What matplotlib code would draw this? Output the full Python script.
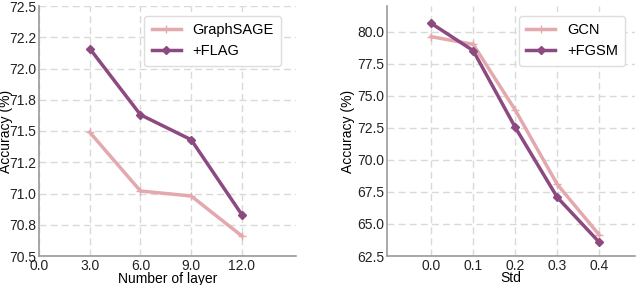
import numpy as np
import matplotlib
matplotlib.use("Agg")
import matplotlib.pyplot as plt
from matplotlib.ticker import FormatStrFormatter

# left panel: accuracy vs number of layers
layers = [3, 6, 9, 12]
graphsage = [71.49, 71.02, 70.98, 70.66]
flag = [72.16, 71.63, 71.43, 70.83]
layer_ticks = [0, 3, 6, 9, 12]

# right panel: accuracy vs std
stds = [0.0, 0.1, 0.2, 0.3, 0.4]
gcn = [79.61, 79.01, 73.89, 68.09, 64.14]
fgsm = [80.65, 78.52, 72.54, 67.08, 63.57]

PINK = "#e3a9ae"
PURPLE = "#8c4a80"

plt.rcParams["font.family"] = ["Liberation Sans", "DejaVu Sans"]
plt.rcParams["font.size"] = 10

fig = plt.figure(figsize=(6.4, 2.85), dpi=100)
ax1 = fig.add_axes([39 / 640, 1 - 256 / 285, 257 / 640, 250 / 285])
ax2 = fig.add_axes([387 / 640, 1 - 256 / 285, 248 / 640, 250 / 285])


def style(ax):
    ax.grid(True, linestyle=(0, (5, 3)), color="#d9d9d9", linewidth=1.0)
    ax.set_axisbelow(True)
    for s in ["top", "right"]:
        ax.spines[s].set_visible(False)
    for s in ["left", "bottom"]:
        ax.spines[s].set_color("#9a9a9a")
        ax.spines[s].set_linewidth(1.2)
    ax.tick_params(length=0, labelsize=10, colors="#222222", pad=2)


ax1.plot(layers, graphsage, color=PINK, linewidth=2.5, marker="+", markersize=6, label="GraphSAGE")
ax1.plot(layers, flag, color=PURPLE, linewidth=2.5, marker="D", markersize=4, label="+FLAG")
ax1.set_xlim(0, 15.2)
ax1.set_ylim(70.5, 72.5)
ax1.set_xticks(layer_ticks)
ax1.set_yticks(np.arange(70.5, 72.51, 0.25))
ax1.xaxis.set_major_formatter(FormatStrFormatter("%.1f"))
ax1.yaxis.set_major_formatter(FormatStrFormatter("%.1f"))
ax1.set_xlabel("Number of layer")
ax1.set_ylabel("Accuracy (%)")
ax1.xaxis.set_label_coords(0.5, -0.062)
ax1.yaxis.set_label_coords(-0.10, 0.5)
style(ax1)
ax1.legend(loc="upper right", fontsize=10.5, framealpha=1, edgecolor="#dddddd",
           handlelength=2.0, borderpad=0.5, bbox_to_anchor=(0.97, 0.99))

ax2.plot(stds, gcn, color=PINK, linewidth=2.5, marker="+", markersize=6, label="GCN")
ax2.plot(stds, fgsm, color=PURPLE, linewidth=2.5, marker="D", markersize=4, label="+FGSM")
ax2.set_xlim(-0.105, 0.485)
ax2.set_ylim(62.5, 82.0)
ax2.set_xticks(stds)
ax2.set_yticks(np.arange(62.5, 80.01, 2.5))
ax2.xaxis.set_major_formatter(FormatStrFormatter("%.1f"))
ax2.yaxis.set_major_formatter(FormatStrFormatter("%.1f"))
ax2.set_xlabel("Std")
ax2.set_ylabel("Accuracy (%)")
ax2.xaxis.set_label_coords(0.5, -0.062)
ax2.yaxis.set_label_coords(-0.13, 0.5)
style(ax2)
ax2.legend(loc="upper right", fontsize=10.5, framealpha=1, edgecolor="#dddddd",
           handlelength=2.0, borderpad=0.5, bbox_to_anchor=(0.99, 0.99))

fig.savefig("out.png", dpi=100)
